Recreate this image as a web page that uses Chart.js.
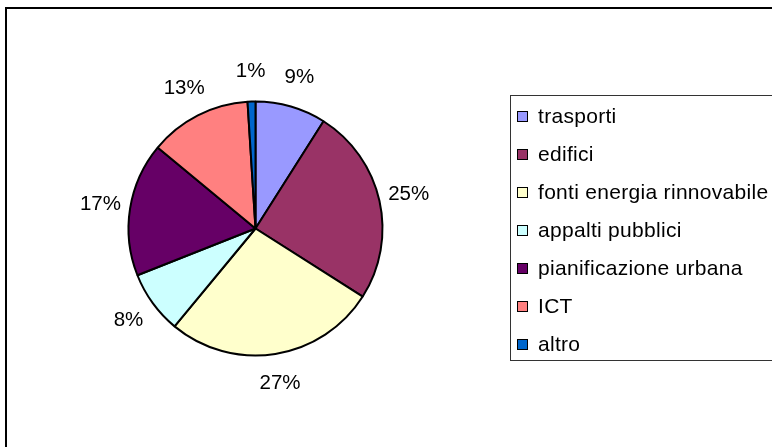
<!DOCTYPE html>
<html>
<head>
<meta charset="utf-8">
<script src="https://cdn.jsdelivr.net/npm/chart.js@4/dist/chart.umd.min.js"></script>
<style>
    html, body {
        margin: 0;
        overflow: hidden;
    }
    body {
        width: 772px;
        height: 447px;
        position: relative;
        background: #fff;
        font-family: "Liberation Sans", Arial, sans-serif;
    }
    #frame {
        position: absolute;
        left: 5px;
        top: 7px;
        width: 900px;
        height: 600px;
        border: 2px solid #000;
        border-right: none;
        border-bottom: none;
    }
    #chart {
        position: absolute;
        left: 0;
        top: 0;
    }
    #legend {
        position: absolute;
        left: 510px;
        top: 95px;
        width: 262px;
        height: 266px;
        border: 1px solid #333;
        border-right: none;
        padding-top: 1px;
        box-sizing: border-box;
    }
    .item {
        height: 38px;
        display: flex;
        align-items: center;
        font-size: 21px;
        letter-spacing: 0.3px;
        color: #000;
        white-space: nowrap;
    }
    .box {
        width: 9px;
        height: 9px;
        border: 1px solid #000;
        margin-left: 6px;
        margin-right: 10px;
    }
</style>
</head>
<body>
<div id="frame"></div>
<canvas id="chart" width="772" height="447"></canvas>
<div id="legend"></div>
<script>
const CATEGORIES = ["trasporti", "edifici", "fonti energia rinnovabile", "appalti pubblici", "pianificazione urbana", "ICT", "altro"];
const VALUES = [9, 25, 27, 8, 17, 13, 1];
const COLORS = ["#9999FF", "#993366", "#FFFFCC", "#CCFFFF", "#660066", "#FF8080", "#0066CC"];

// percent labels outside the pie
const outsideLabels = {
    id: "outsideLabels",
    afterDatasetsDraw(chart) {
        const ctx = chart.ctx;
        const meta = chart.getDatasetMeta(0);
        const data = chart.data.datasets[0].data;
        const total = data.reduce((a, b) => a + b, 0);
        ctx.save();
        ctx.font = "20.5px 'Liberation Sans', Arial, sans-serif";
        ctx.fillStyle = "#000";
        ctx.textAlign = "center";
        ctx.textBaseline = "middle";
        meta.data.forEach((arc, i) => {
            const p = arc.getProps(["x", "y", "startAngle", "endAngle", "outerRadius"], true);
            const mid = (p.startAngle + p.endAngle) / 2;
            const r = p.outerRadius + 30;
            const x = p.x + Math.cos(mid) * r;
            const y = p.y + Math.sin(mid) * r;
            ctx.fillText(Math.round((data[i] / total) * 100) + "%", x, y);
        });
        ctx.restore();
    },
};

const ctx = document.getElementById("chart");
const pieChart = new Chart(ctx, {
    type: "pie",
    data: {
        labels: CATEGORIES,
        datasets: [
            {
                data: VALUES,
                backgroundColor: COLORS,
                borderColor: "#000",
                borderWidth: 2,
            },
        ],
    },
    options: {
        responsive: false,
        animation: false,
        layout: {
            padding: { left: 127.5, top: 100.5, right: 388.5, bottom: 90.5 },
        },
        plugins: {
            legend: { display: false },
            tooltip: { enabled: false },
        },
    },
    plugins: [outsideLabels],
});

const legend = document.getElementById("legend");
CATEGORIES.forEach((name, i) => {
    const row = document.createElement("div");
    row.className = "item";
    const box = document.createElement("span");
    box.className = "box";
    box.style.background = COLORS[i];
    row.appendChild(box);
    row.appendChild(document.createTextNode(name));
    legend.appendChild(row);
});
</script>
</body>
</html>
